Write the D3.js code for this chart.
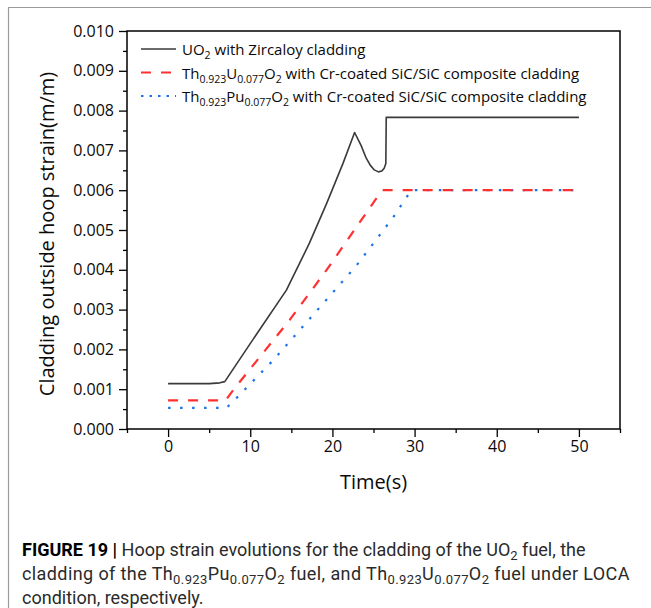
<!DOCTYPE html>
<html>
<head>
<meta charset="utf-8">
<script src="https://cdn.jsdelivr.net/npm/d3@7"></script>
<style>
  html, body { margin: 0; padding: 0; background: #fff; }
  svg { display: block; }
</style>
</head>
<body>
<svg id="chart" width="651" height="608"></svg>
<script>
// Time (s) and outside hoop strain (m/m) for each fuel / cladding case
const uo2Time   = [0, 3, 5, 6.3, 6.9, 10.3, 14.4, 16.4, 17.2, 19.3, 21.3, 22.7, 23.5, 24.1, 24.6, 25.1, 25.6, 26.0, 26.3, 26.5, 26.55, 26.65, 50];
const uo2Strain = [0.00114, 0.00114, 0.00114, 0.00116, 0.00119, 0.00224, 0.00349, 0.00433, 0.00467, 0.00567, 0.00668, 0.00745, 0.00712, 0.00681, 0.00663, 0.00651, 0.00646, 0.00648, 0.00655, 0.00667, 0.00783, 0.00783, 0.00783];

const thuTime   = [0, 7.0, 8.0, 14.8, 19.3, 25.2, 26.1, 50];
const thuStrain = [0.00072, 0.00072, 0.00100, 0.00274, 0.00400, 0.00575, 0.00600, 0.00600];

const thpuTime   = [0, 7.1, 8.3, 12.8, 18.0, 22.9, 27.4, 29.6, 50];
const thpuStrain = [0.00053, 0.00053, 0.00077, 0.00173, 0.00295, 0.00410, 0.00532, 0.00600, 0.00600];

const xTicks = [0, 10, 20, 30, 40, 50];
const yTicks = [0, 0.001, 0.002, 0.003, 0.004, 0.005, 0.006, 0.007, 0.008, 0.009, 0.010];
const xMinorTicks = [-5, 5, 15, 25, 35, 45, 55];
const yMinorTicks = [0.0005, 0.0015, 0.0025, 0.0035, 0.0045, 0.0055, 0.0065, 0.0075, 0.0085, 0.0095];

const seriesNames = [
  [{t: "UO"}, {t: "2", sub: true}, {t: " with Zircaloy cladding"}],
  [{t: "Th"}, {t: "0.923", sub: true}, {t: "U"}, {t: "0.077", sub: true}, {t: "O"}, {t: "2", sub: true}, {t: " with Cr-coated SiC/SiC composite cladding"}],
  [{t: "Th"}, {t: "0.923", sub: true}, {t: "Pu"}, {t: "0.077", sub: true}, {t: "O"}, {t: "2", sub: true}, {t: " with Cr-coated SiC/SiC composite cladding"}]
];

const captionLines = [
  [{t: "FIGURE 19 | ", bold: true}, {t: "Hoop strain evolutions for the cladding of the UO"}, {t: "2", sub: true}, {t: " fuel, the"}],
  [{t: "cladding of the Th"}, {t: "0.923", sub: true}, {t: "Pu"}, {t: "0.077", sub: true}, {t: "O"}, {t: "2", sub: true}, {t: " fuel, and Th"}, {t: "0.923", sub: true}, {t: "U"}, {t: "0.077", sub: true}, {t: "O"}, {t: "2", sub: true}, {t: " fuel under LOCA"}],
  [{t: "condition, respectively."}]
];
// extra tracking for each caption line (px), spreading justified lines to the column
const captionTracking = [0, 0.4, 0];

const svg = d3.select("#chart");
const plotFont = "'Open Sans', 'Noto Sans', sans-serif";
const capFont = "Roboto, 'Liberation Sans', Arial, sans-serif";

// outer panel border (top and left)
svg.append("path")
  .attr("d", "M8.5,608 L8.5,7.5 L651,7.5")
  .attr("fill", "none").attr("stroke", "#9a9a9a").attr("stroke-width", 1.2);

const plotLeft = 127, plotRight = 620, plotTop = 31, plotBottom = 429;
const x = d3.scaleLinear().domain([-5, 55]).range([plotLeft, plotRight]);
const y = d3.scaleLinear().domain([0, 0.010]).range([plotBottom, plotTop]);

// axes
svg.append("g").attr("transform", `translate(0,${plotBottom})`)
  .call(d3.axisBottom(x).tickValues(xTicks).tickSize(8).tickPadding(4).tickFormat(d3.format("d")));
svg.append("g").attr("transform", `translate(0,${plotBottom})`)
  .call(d3.axisBottom(x).tickValues(xMinorTicks).tickSize(4).tickFormat(""));
svg.append("g").attr("transform", `translate(${plotLeft},0)`)
  .call(d3.axisLeft(y).tickValues(yTicks).tickSize(8).tickPadding(5).tickFormat(d3.format(".3f")));
svg.append("g").attr("transform", `translate(${plotLeft},0)`)
  .call(d3.axisLeft(y).tickValues(yMinorTicks).tickSize(4).tickFormat(""));

svg.selectAll(".domain").remove();
svg.selectAll(".tick text").filter(function () { return !this.textContent; }).remove();
svg.selectAll(".tick line").attr("stroke", "#000").attr("stroke-width", 1.3);
svg.selectAll(".tick text").attr("fill", "#0a0a0a").style("font-family", plotFont).style("font-size", "16px");

// plot frame
svg.append("rect")
  .attr("x", plotLeft).attr("y", plotTop).attr("width", plotRight - plotLeft).attr("height", plotBottom - plotTop)
  .attr("fill", "none").attr("stroke", "#000").attr("stroke-width", 1.5);

// axis titles
svg.append("text")
  .attr("x", (x(0) + x(50)) / 2).attr("y", 489)
  .attr("text-anchor", "middle")
  .style("font-family", plotFont).style("font-size", "20px").attr("fill", "#0a0a0a")
  .text("Time(s)");
svg.append("text")
  .attr("transform", `translate(54,${(plotTop + plotBottom) / 2 + 4}) rotate(-90)`)
  .attr("text-anchor", "middle")
  .style("font-family", plotFont).style("font-size", "20px").attr("fill", "#0a0a0a")
  .text("Cladding outside hoop strain(m/m)");

// series lines
const line = d3.line().x(d => x(d[0])).y(d => y(d[1]));
const styles = [
  {stroke: "#3a3a3a", width: 1.6, dash: null, legendDash: null},
  {stroke: "#ff3030", width: 2.2, dash: "10,10", legendDash: "10,10"},
  {stroke: "#1a73e8", width: 2.2, dash: "2.5,9.5", legendDash: "2.5,6"}
];
const seriesData = [
  d3.zip(uo2Time, uo2Strain),
  d3.zip(thuTime, thuStrain),
  d3.zip(thpuTime, thpuStrain)
];
// draw the dotted and dashed series first, solid line on top
[2, 1, 0].forEach(i => {
  svg.append("path")
    .datum(seriesData[i])
    .attr("d", line)
    .attr("fill", "none")
    .attr("stroke", styles[i].stroke)
    .attr("stroke-width", styles[i].width)
    .attr("stroke-dasharray", styles[i].dash)
    .attr("stroke-linejoin", "round");
});

// rich text with subscripts: shift down for a subscript, back up on the following run
function richText(g, parts, subSize, subShift) {
  let offset = 0;
  parts.forEach(p => {
    const ts = g.append("tspan").text(p.t);
    if (p.bold) ts.attr("font-weight", "bold").attr("fill", "#000");
    const target = p.sub ? subShift : 0;
    if (target !== offset) ts.attr("dy", target - offset);
    offset = target;
    if (p.sub) ts.style("font-size", subSize + "px");
  });
}

// legend
const legendRows = [55, 78.5, 102];
legendRows.forEach((ly, i) => {
  svg.append("line")
    .attr("x1", 141).attr("x2", 176).attr("y1", ly - 6).attr("y2", ly - 6)
    .attr("stroke", styles[i].stroke).attr("stroke-width", styles[i].width)
    .attr("stroke-dasharray", styles[i].legendDash);
  const t = svg.append("text").attr("x", 182).attr("y", ly)
    .style("font-family", plotFont).style("font-size", "15px").attr("fill", "#0a0a0a");
  richText(t, seriesNames[i], 10.5, 4);
});

// caption
const capRows = [556, 580, 604];
capRows.forEach((cy, i) => {
  const t = svg.append("text").attr("x", 22).attr("y", cy)
    .style("font-family", capFont).style("font-size", "18px").attr("fill", "#2a2a2a")
    .style("letter-spacing", captionTracking[i] + "px");
  richText(t, captionLines[i], 13, 4);
});
</script>
</body>
</html>
